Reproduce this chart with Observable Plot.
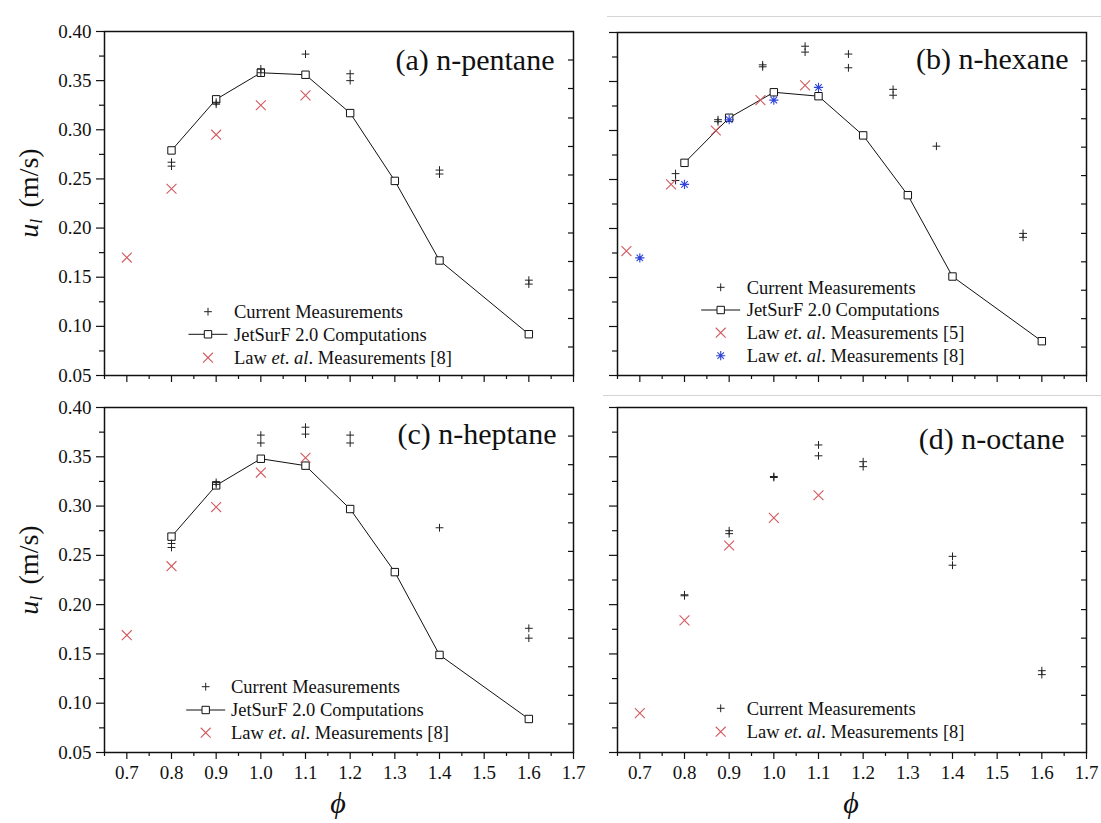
<!DOCTYPE html>
<html><head><meta charset="utf-8">
<script src="https://cdn.jsdelivr.net/npm/d3@7"></script>
<script src="https://cdn.jsdelivr.net/npm/@observablehq/plot@0.6"></script>
<style>
html,body{margin:0;padding:0;background:#fff;}
#wrap{position:relative;width:1101px;height:823px;overflow:hidden;background:#fff;font-family:"Liberation Serif",serif;color:#111;}
#wrap svg{position:absolute;overflow:visible;}
.ylab{position:absolute;font-size:28px;white-space:nowrap;transform:translate(-50%,-50%) rotate(-90deg);line-height:1;font-family:"Liberation Serif",serif;}
.ylab sub{font-size:0.62em;vertical-align:-0.25em;margin-right:0.25em;}
.xlab{position:absolute;font-size:30px;font-style:italic;transform:translate(-50%,-50%);line-height:1;font-family:"Liberation Serif",serif;}
.sep{position:absolute;height:1px;background:#d4d4d4;}
</style></head><body><div id="wrap"></div>
<script>
// ---------- data ----------
const phiJet = [0.8, 0.9, 1.0, 1.1, 1.2, 1.3, 1.4, 1.6];
const jetPentane = [0.279, 0.331, 0.358, 0.356, 0.317, 0.248, 0.167, 0.092];
const jetHexane  = [0.267, 0.313, 0.339, 0.335, 0.295, 0.234, 0.151, 0.085];
const jetHeptane = [0.269, 0.321, 0.348, 0.341, 0.297, 0.233, 0.149, 0.084];

const curPentanePhi = [0.8, 0.8, 0.9, 0.9, 1.0, 1.0, 1.1, 1.2, 1.2, 1.4, 1.4, 1.6, 1.6];
const curPentaneU   = [0.267, 0.263, 0.328, 0.326, 0.362, 0.358, 0.377, 0.357, 0.350, 0.259, 0.255, 0.147, 0.143];
const lawPentanePhi = [0.7, 0.8, 0.9, 1.0, 1.1];
const lawPentaneU   = [0.170, 0.240, 0.295, 0.325, 0.335];

const curHexanePhi = [0.78, 0.78, 0.875, 0.875, 0.975, 0.975, 1.07, 1.07, 1.167, 1.167, 1.267, 1.267, 1.364, 1.558, 1.558];
const curHexaneU   = [0.256, 0.249, 0.311, 0.309, 0.367, 0.365, 0.386, 0.380, 0.378, 0.364, 0.342, 0.336, 0.284, 0.195, 0.191];
const law5HexanePhi = [0.67, 0.77, 0.87, 0.97, 1.07];
const law5HexaneU   = [0.177, 0.245, 0.300, 0.331, 0.346];
const law8HexanePhi = [0.7, 0.8, 0.9, 1.0, 1.1];
const law8HexaneU   = [0.170, 0.245, 0.311, 0.331, 0.344];

const curHeptanePhi = [0.8, 0.8, 0.9, 0.9, 1.0, 1.0, 1.1, 1.1, 1.2, 1.2, 1.4, 1.6, 1.6];
const curHeptaneU   = [0.262, 0.258, 0.324, 0.322, 0.372, 0.364, 0.380, 0.373, 0.372, 0.364, 0.278, 0.176, 0.166];
const lawHeptanePhi = [0.7, 0.8, 0.9, 1.0, 1.1];
const lawHeptaneU   = [0.169, 0.239, 0.299, 0.334, 0.349];

const curOctanePhi = [0.8, 0.8, 0.9, 0.9, 1.0, 1.0, 1.1, 1.1, 1.2, 1.2, 1.4, 1.4, 1.6, 1.6];
const curOctaneU   = [0.210, 0.209, 0.275, 0.272, 0.330, 0.329, 0.362, 0.351, 0.345, 0.340, 0.249, 0.240, 0.133, 0.129];
const lawOctanePhi = [0.7, 0.8, 0.9, 1.0, 1.1];
const lawOctaneU   = [0.090, 0.184, 0.260, 0.288, 0.311];

// ---------- ticks ----------
const yMajor = [0.05, 0.10, 0.15, 0.20, 0.25, 0.30, 0.35, 0.40];
const yMinor = [0.075, 0.125, 0.175, 0.225, 0.275, 0.325, 0.375];
const yRight = [0.371, 0.342, 0.312, 0.283, 0.254, 0.225, 0.195, 0.166, 0.137, 0.108, 0.079];
const xMajor = [0.7, 0.8, 0.9, 1.0, 1.1, 1.2, 1.3, 1.4, 1.5, 1.6, 1.7];
const xMinor = [0.65, 0.75, 0.85, 0.95, 1.05, 1.15, 1.25, 1.35, 1.45, 1.55, 1.65];

const legCurrent = "Current Measurements";
const legJet = "JetSurF 2.0 Computations";
const legLaw5 = ["Law ", "et", ". ", "al", ". Measurements [5]"];
const legLaw8 = ["Law ", "et", ". ", "al", ". Measurements [8]"];

// ---------- symbols ----------
const RED = "#d45a5f", BLUE = "#2f45d8", INK = "#111";
const SERIF = "'Liberation Serif', serif";
const plusSym = {draw(c, s){const r = Math.sqrt(s/Math.PI); c.moveTo(-r,0); c.lineTo(r,0); c.moveTo(0,-r); c.lineTo(0,r);}};
const timesSym = {draw(c, s){const r = Math.sqrt(s/Math.PI)*0.7071; c.moveTo(-r,-r); c.lineTo(r,r); c.moveTo(-r,r); c.lineTo(r,-r);}};
const starSym = {draw(c, s){const r = Math.sqrt(s/Math.PI), d = r*0.7071; c.moveTo(-r,0); c.lineTo(r,0); c.moveTo(0,-r); c.lineTo(0,r); c.moveTo(-d,-d); c.lineTo(d,d); c.moveTo(-d,d); c.lineTo(d,-d);}};
const squareSym = {draw(c, s){const r = Math.sqrt(s/Math.PI); c.rect(-r,-r,2*r,2*r);}};
const STY = {
  cur:  {sym: plusSym, r: 3.9, stroke: "#222", fill: "none", sw: 1},
  jet:  {sym: squareSym, r: 3.7, stroke: INK, fill: "white", sw: 1},
  law5: {sym: timesSym, r: 7, stroke: RED, fill: "none", sw: 1.1},
  law8: {sym: timesSym, r: 7, stroke: RED, fill: "none", sw: 1.1},
  star8:{sym: starSym, r: 4.6, stroke: BLUE, fill: "none", sw: 1.1}
};

const pts = (xs, ys) => xs.map((x, i) => ({x, u: ys[i]}));

const panels = [
  {title: "(a) n-pentane", left: 0, top: 0, width: 595, height: 391, mL: 104, mR: 22, mT: 31, mB: 16,
   yLabels: true, xLabels: false, tdx: -19, tdy: 29,
   jet: jetPentane, cur: pts(curPentanePhi, curPentaneU),
   laws: [{d: pts(lawPentanePhi, lawPentaneU), s: "law8"}],
   legend: {sx: 104, tx: 130, rows: [[280.7, "cur", legCurrent], [303.3, "jet", legJet], [326.7, "law8", legLaw8]]}},
  {title: "(b) n-hexane", left: 595, top: 0, width: 506, height: 391, mL: 22, mR: 15, mT: 32, mB: 16,
   yLabels: false, xLabels: false, tdx: -18, tdy: 27,
   jet: jetHexane, cur: pts(curHexanePhi, curHexaneU),
   laws: [{d: pts(law5HexanePhi, law5HexaneU), s: "law5"}, {d: pts(law8HexanePhi, law8HexaneU), s: "star8"}],
   legend: {sx: 103.7, tx: 129.7, rows: [[255.3, "cur", legCurrent], [278, "jet", legJet], [300.7, "law5", legLaw5], [323.7, "star8", legLaw8]]}},
  {title: "(c) n-heptane", left: 0, top: 391, width: 595, height: 432, mL: 104, mR: 22, mT: 16, mB: 71,
   yLabels: true, xLabels: true, tdx: -17, tdy: 27,
   jet: jetHeptane, cur: pts(curHeptanePhi, curHeptaneU),
   laws: [{d: pts(lawHeptanePhi, lawHeptaneU), s: "law8"}],
   legend: {sx: 101.7, tx: 127, rows: [[279.7, "cur", legCurrent], [303, "jet", legJet], [325.7, "law8", legLaw8]]}},
  {title: "(d) n-octane", left: 595, top: 391, width: 506, height: 432, mL: 22, mR: 15, mT: 16, mB: 71,
   yLabels: false, xLabels: true, tdx: -22, tdy: 32,
   jet: null, cur: pts(curOctanePhi, curOctaneU),
   laws: [{d: pts(lawOctanePhi, lawOctaneU), s: "law8"}],
   legend: {sx: 103.7, tx: 129.7, rows: [[301.3, "cur", legCurrent], [324.7, "law8", legLaw8]]}}
];

const wrap = document.getElementById("wrap");

function symPath(st){ const p = d3.path(); st.sym.draw(p, st.r*st.r*Math.PI); return p.toString(); }

for (const p of panels) {
  const marks = [
    Plot.axisY(yMajor, {anchor: "left", tickSize: 8, tickPadding: 5, tickFormat: d3.format(".2f"), label: null, stroke: INK, strokeWidth: 1.2, fill: p.yLabels ? INK : "none"}),
    Plot.axisY(yMinor, {anchor: "left", tickSize: 5, label: null, stroke: INK, strokeWidth: 1.2, fill: "none"}),
    Plot.axisY(yRight, {anchor: "right", tickSize: 6, dx: -6, label: null, stroke: INK, strokeWidth: 1.2, fill: "none"}),
    Plot.axisX(xMajor, {anchor: "bottom", tickSize: 7, tickPadding: 6, tickFormat: d3.format(".1f"), label: null, stroke: INK, strokeWidth: 1.2, fill: p.xLabels ? INK : "none"}),
    Plot.axisX(xMinor, {anchor: "bottom", tickSize: 4, label: null, stroke: INK, strokeWidth: 1.2, fill: "none"}),
    Plot.frame({stroke: INK, strokeWidth: 1.5})
  ];
  if (p.jet) {
    const jd = pts(phiJet, p.jet);
    marks.push(Plot.line(jd, {x: "x", y: "u", stroke: INK, strokeWidth: 1}));
    const s = STY.jet;
    marks.push(Plot.dot(jd, {x: "x", y: "u", symbol: s.sym, r: s.r, stroke: s.stroke, fill: s.fill, strokeWidth: s.sw}));
  }
  {
    const s = STY.cur;
    marks.push(Plot.dot(p.cur, {x: "x", y: "u", symbol: s.sym, r: s.r, stroke: s.stroke, fill: s.fill, strokeWidth: s.sw}));
  }
  for (const l of p.laws) {
    const s = STY[l.s];
    marks.push(Plot.dot(l.d, {x: "x", y: "u", symbol: s.sym, r: s.r, stroke: s.stroke, fill: s.fill, strokeWidth: s.sw}));
  }
  marks.push(Plot.text([p.title], {text: d => d, frameAnchor: "top-right", textAnchor: "end", lineAnchor: "middle", dx: p.tdx, dy: p.tdy, fontSize: 30, fill: INK}));

  const svg = Plot.plot({
    width: p.width, height: p.height,
    marginLeft: p.mL, marginRight: p.mR, marginTop: p.mT, marginBottom: p.mB,
    x: {domain: [0.65, 1.7]},
    y: {domain: [0.05, 0.40]},
    style: {fontFamily: SERIF, fontSize: "19px", color: INK, background: "transparent", overflow: "visible"},
    marks
  });
  svg.style.left = p.left + "px";
  svg.style.top = p.top + "px";

  // legend
  const g = d3.select(svg).append("g")
    .attr("transform", `translate(${p.mL},${p.mT})`)
    .attr("font-family", SERIF)
    .attr("font-size", 18.5).attr("fill", INK)
    .attr("text-anchor", "start");
  for (const [yy, key, label] of p.legend.rows) {
    const st = STY[key];
    if (key === "jet") {
      g.append("line").attr("x1", p.legend.sx - 19.5).attr("x2", p.legend.sx + 19.5)
        .attr("y1", yy).attr("y2", yy).attr("stroke", INK).attr("stroke-width", 1);
    }
    g.append("path").attr("d", symPath(st)).attr("transform", `translate(${p.legend.sx},${yy})`)
      .attr("stroke", st.stroke).attr("fill", st.fill).attr("stroke-width", st.sw);
    const t = g.append("text").attr("x", p.legend.tx).attr("y", yy).attr("dy", "0.35em")
      .attr("text-anchor", "start").style("text-anchor", "start");
    if (Array.isArray(label)) {
      label.forEach((part, i) => {
        const ts = t.append("tspan").text(part);
        if (i === 1 || i === 3) ts.attr("font-style", "italic");
      });
    } else t.text(label);
  }
  wrap.appendChild(svg);
}

// axis titles
function addHTML(cls, html, x, y){ const d = document.createElement("div"); d.className = cls; d.innerHTML = html; d.style.left = x + "px"; d.style.top = y + "px"; wrap.appendChild(d); }
addHTML("ylab", "<i>u</i><sub><i>l</i></sub> (m/s)", 30, 193);
addHTML("ylab", "<i>u</i><sub><i>l</i></sub> (m/s)", 30, 570);
addHTML("xlab", "\u03D5", 338, 803);
addHTML("xlab", "\u03D5", 851, 803);

// faint scan borders seen in the reference
function sep(x1, x2, y){ const d = document.createElement("div"); d.className = "sep"; d.style.left = x1 + "px"; d.style.width = (x2 - x1) + "px"; d.style.top = y + "px"; wrap.appendChild(d); }
sep(607, 1101, 16);
sep(603, 1101, 395);
</script>
</body></html>
